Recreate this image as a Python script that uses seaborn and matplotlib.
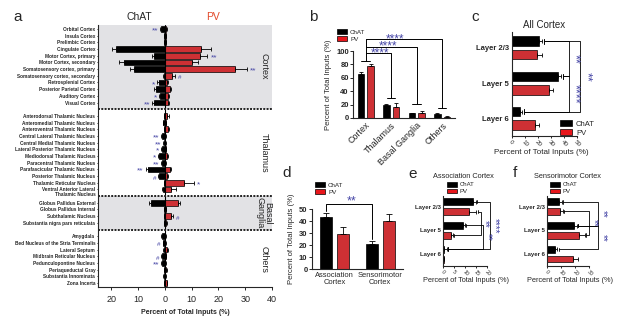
import numpy as np
import pandas as pd
import matplotlib
matplotlib.use("Agg")
import matplotlib.pyplot as plt
from matplotlib.patches import Patch
import seaborn as sns

# ---- data ----
# panel a: inputs per region (percent), ChAT drawn to the left, PV to the right
a_groups = ["Cortex", "Thalamus", "Basal\nGanglia", "Others"]
a_group_sizes = [12, 12, 4, 8]
a_regions = [
    "Orbital Cortex", "Insula Cortex", "Prelimbic Cortex", "Cingulate Cortex",
    "Motor Cortex, primary", "Motor Cortex, secondary", "Somatosensory cortex, primary",
    "Somatosensory cortex, secondary", "Retrosplenial Cortex", "Posterior Parietal Cortex",
    "Auditory Cortex", "Visual Cortex",
    "Anterodorsal Thalamic Nucleus", "Anteromedial Thalamic Nucleus",
    "Anteroventral Thalamic Nucleus", "Central Lateral Thalamic Nucleus",
    "Central Medial Thalamic Nucleus", "Lateral Posterior Thalamic Nucleus",
    "Mediodorsal Thalamic Nucleus", "Paracentral Thalamic Nucleus",
    "Parafascicular Thalamic Nucleus", "Posterior Thalamic Nucleus",
    "Thalamic Reticular Nucleus", "Ventral Anterior Lateral\nThalamic Nucleus",
    "Globus Pallidus External", "Globus Pallidus Internal", "Subthalamic Nucleus",
    "Substantia nigra pars reticulata",
    "Amygdala", "Bed Nucleus of the Stria Terminalis", "Lateral Septum",
    "Midbrain Reticular Nucleus", "Pedunculopontine Nucleus", "Periaqueductal Gray",
    "Substantia Innominata", "Zona Incerta",
]
a_chat = [1.4, 0.3, 0.3, 18.3, 4.1, 15.4, 11.5, 0.5, 2.3, 3.5, 1.9, 4.1,
          0.2, 0.6, 0.2, 1.1, 0.5, 1.2, 2.3, 1.0, 6.3, 2.1, 0.4, 0.9,
          5.1, 0.3, 0.3, 0.3,
          1.1, 0.6, 0.5, 1.1, 1.0, 0.3, 0.5, 0.4]
a_chat_err = [0.3, 0.2, 0.2, 1.5, 0.6, 1.6, 1.5, 0.2, 0.5, 0.4, 0.4, 0.6,
              0.1, 0.2, 0.1, 0.3, 0.2, 0.3, 0.4, 0.3, 0.9, 0.4, 0.1, 0.3,
              0.7, 0.1, 0.1, 0.1,
              0.3, 0.2, 0.2, 0.3, 0.3, 0.1, 0.1, 0.1]
a_pv = [0.5, 0.3, 0.3, 13.5, 13.0, 10.1, 26.2, 2.6, 0.9, 1.9, 1.1, 1.1,
        0.9, 0.3, 1.1, 0.2, 0.2, 0.3, 0.9, 0.2, 1.9, 0.9, 7.3, 2.3,
        4.8, 0.3, 2.3, 0.5,
        0.2, 0.2, 0.7, 0.3, 0.2, 0.5, 0.2, 0.6]
a_pv_err = [0.2, 0.1, 0.1, 3.7, 2.9, 2.1, 4.3, 1.1, 0.3, 0.4, 0.3, 0.3,
            0.6, 0.1, 0.3, 0.1, 0.1, 0.1, 0.3, 0.1, 0.5, 0.3, 3.4, 1.7,
            1.0, 0.1, 0.8, 0.2,
            0.1, 0.1, 0.3, 0.1, 0.1, 0.2, 0.1, 0.3]
a_chat_sig = ["**", "", "", "", "", "", "", "", "*", "", "*", "**",
              "", "", "", "**", "**", "*", "*", "**", "**", "#", "", "",
              "", "", "", "",
              "", "#", "", "#", "**", "", "", ""]
a_pv_sig = ["", "", "", "", "**", "", "**", "#", "", "", "", "",
            "", "", "", "", "", "", "", "", "", "", "*", "",
            "", "", "#", "",
            "", "", "", "", "", "", "", ""]

# panel b
b_regions = ["Cortex", "Thalamus", "Basal Ganglia", "Others"]
b_chat = [66, 19, 7, 6]
b_chat_err = [3, 2, 1, 1]
b_pv = [77, 16, 8, 2]
b_pv_err = [3, 6, 2, 1]

# panel c, e, f: layers
layers = ["Layer 2/3", "Layer 5", "Layer 6"]
c_chat = [21.0, 35.6, 6.2]
c_chat_err = [2.0, 2.6, 1.5]
c_pv = [19.7, 28.8, 17.7]
c_pv_err = [3.8, 3.1, 3.3]

e_chat = [13.3, 8.8, 0.2]
e_chat_err = [1.4, 1.1, 1.3]
e_pv = [11.5, 3.5, 0.1]
e_pv_err = [3.5, 0.8, 0.1]

f_chat = [8.6, 19.0, 5.5]
f_chat_err = [1.6, 2.0, 1.6]
f_pv = [9.0, 22.9, 18.0]
f_pv_err = [2.0, 4.0, 4.0]

# panel d
d_regions = ["Association\nCortex", "Sensorimotor\nCortex"]
d_chat = [43.0, 20.8]
d_chat_err = [3.4, 2.5]
d_pv = [29.2, 40.3]
d_pv_err = [5.5, 5.3]

# ---- style ----
sns.set_theme(style="ticks")
plt.rcParams["font.family"] = ["Liberation Sans", "DejaVu Sans"]
plt.rcParams["axes.linewidth"] = 0.8
plt.rcParams["xtick.major.width"] = 0.7
plt.rcParams["ytick.major.width"] = 0.7
plt.rcParams["xtick.major.size"] = 2
plt.rcParams["ytick.major.size"] = 2

RED = "#e8161b"
STAR = "#4646a6"
GRAY = "#e2e2e5"
pal = {"ChAT": "black", "PV": RED}

W, H = 617, 326
fig = plt.figure(figsize=(W / 100, H / 100), dpi=100)


def box(x0, y0, x1, y1):
    # pixel box -> figure fraction rect
    return [x0 / W, 1 - y1 / H, (x1 - x0) / W, (y1 - y0) / H]


def long_df(cats, chat, pv, cat_name):
    return pd.DataFrame({
        cat_name: list(cats) * 2,
        "cell": ["ChAT"] * len(cats) + ["PV"] * len(cats),
        "value": list(chat) + list(pv),
    })


def legend(ax, x, y, fs):
    handles = [Patch(facecolor="black", edgecolor="black", lw=0.5),
               Patch(facecolor=RED, edgecolor="black", lw=0.5)]
    ax.legend(handles, ["ChAT", "PV"], loc="upper left", bbox_to_anchor=(x / W, 1 - y / H),
              bbox_transform=fig.transFigure, frameon=False, fontsize=fs,
              handlelength=1.6, handleheight=0.8, handletextpad=0.5, labelspacing=0.25,
              borderpad=0, borderaxespad=0)


# ================= panel a =================
ax = fig.add_axes(box(98, 25, 272, 287))
group_id = np.repeat(np.arange(len(a_group_sizes)), a_group_sizes)
pos_a = np.arange(len(a_regions)) + group_id
df_a = pd.DataFrame({
    "pos": np.concatenate([pos_a, pos_a]),
    "value": np.concatenate([-np.array(a_chat), np.array(a_pv)]),
    "cell": ["ChAT"] * len(pos_a) + ["PV"] * len(pos_a),
})
starts = np.cumsum([0] + a_group_sizes[:-1]) + np.arange(len(a_group_sizes))
ends = starts + np.array(a_group_sizes) - 1
ax.axhspan(starts[0] - 0.6, ends[0] + 1, color=GRAY, zorder=0, lw=0)
ax.axhspan(starts[2] - 1, ends[2] + 1, color=GRAY, zorder=0, lw=0)
sns.barplot(data=df_a, x="value", y="pos", hue="cell", orient="y", native_scale=True,
            dodge=False, palette=pal, width=0.85, errorbar=None, edgecolor="black",
            linewidth=0.5, legend=False, ax=ax, zorder=2)
ax.errorbar(-np.array(a_chat), pos_a, xerr=[a_chat_err, np.zeros(len(pos_a))], fmt="none",
            ecolor="black", elinewidth=0.6, capsize=1.2, capthick=0.6, zorder=3)
ax.errorbar(a_pv, pos_a, xerr=[np.zeros(len(pos_a)), a_pv_err], fmt="none",
            ecolor="black", elinewidth=0.6, capsize=1.2, capthick=0.6, zorder=3)
for i, p in enumerate(pos_a):
    if a_chat_sig[i]:
        ax.text(-(a_chat[i] + a_chat_err[i]) - 0.7, p + 0.3, a_chat_sig[i], color=STAR,
                ha="right", va="center", fontsize=6 if "*" in a_chat_sig[i] else 4.5)
    if a_pv_sig[i]:
        ax.text(a_pv[i] + a_pv_err[i] + 1.2, p + 0.3, a_pv_sig[i], color=STAR,
                ha="left", va="center", fontsize=6 if "*" in a_pv_sig[i] else 4.5)
ax.axvline(0, color="black", lw=0.8, zorder=4)
for s in starts[1:]:
    ax.axhline(s - 1, color="#222222", lw=1.4, ls=(0, (1, 0.7)), zorder=4)
for g, s, e in zip(a_groups, starts, ends):
    ax.text(37, (s + e) / 2, g, rotation=270, ha="center", va="center", fontsize=6.5,
            linespacing=0.9)
ax.set_xlim(-25, 40)
ax.set_ylim(pos_a[-1] + 0.6, -0.6)
ax.set_yticks(pos_a)
ylabs = [r.split("\n")[0] for r in a_regions]
ax.set_yticklabels(ylabs, fontsize=3.4, fontweight="bold")
# second line of the two-line label sits just under its row
for i, r in enumerate(a_regions):
    if "\n" in r:
        ax.text(-0.012, pos_a[i] + 0.8, r.split("\n")[1], transform=ax.get_yaxis_transform(),
                ha="right", va="center", fontsize=3.4, fontweight="bold")
ax.tick_params(axis="y", length=1, pad=1)
ax.set_xticks([-20, -10, 0, 10, 20, 30, 40])
ax.set_xticklabels(["20", "10", "0", "10", "20", "30", "40"], fontsize=6.5)
ax.set_xlabel("Percent of Total Inputs (%)", fontsize=5, fontweight="bold", labelpad=4)
ax.set_ylabel("")
sns.despine(ax=ax)
fig.text(18 / W, 1 - 17 / H, "a", fontsize=11, ha="center", va="center")
fig.text(139 / W, 1 - 17 / H, "ChAT", fontsize=7.5, ha="center", va="center")
fig.text(213 / W, 1 - 17 / H, "PV", fontsize=7.5, ha="center", va="center", color="#e2492a")

# ================= panel b =================
ax = fig.add_axes(box(353, 51, 455, 118))
df_b = long_df(b_regions, b_chat, b_pv, "region")
sns.barplot(data=df_b, x="region", y="value", hue="cell", palette=pal, width=0.78, gap=0.35,
            errorbar=None, edgecolor="black", linewidth=0.5, legend=False, ax=ax)
xb = np.arange(len(b_regions))
ax.errorbar(xb - 0.195, b_chat, yerr=[np.zeros(4), b_chat_err], fmt="none", ecolor="black",
            elinewidth=0.6, capsize=1.5, capthick=0.6)
ax.errorbar(xb + 0.195, b_pv, yerr=[np.zeros(4), b_pv_err], fmt="none", ecolor="black",
            elinewidth=0.6, capsize=1.5, capthick=0.6)
b_top = [96.5, 106.5, 117.5]
b_foot = [30, 21, 15.5]
b_star_x = [0.56, 0.88, 1.15]
ax.plot([-0.17, 0.15], [85, 85], color="black", lw=0.7, clip_on=False)
ax.plot([0, 0], [85, b_top[-1]], color="black", lw=0.7, clip_on=False)
for k in range(3):
    t = k + 1
    ax.plot([0, t, t], [b_top[k], b_top[k], b_foot[k]], color="black", lw=0.7, clip_on=False)
    ax.plot([t - 0.17, t + 0.15], [b_foot[k], b_foot[k]], color="black", lw=0.7, clip_on=False)
    ax.text(b_star_x[k], b_top[k] + 0.5, "****", color=STAR, ha="center", va="center",
            fontsize=8.5, clip_on=False)
ax.set_ylim(0, 100)
ax.set_xlim(-0.5, 3.5)
ax.set_yticks(range(0, 101, 20))
ax.tick_params(axis="y", labelsize=5.5, pad=1)
for lab in ax.get_yticklabels():
    lab.set_fontweight("bold")
ax.set_xticks(xb)
ax.set_xticklabels(b_regions, rotation=45, ha="right", rotation_mode="anchor", fontsize=6.5)
ax.tick_params(axis="x", length=0, pad=2)
ax.set_xlabel("")
ax.set_ylabel("Percent of Total Inputs (%)", fontsize=5.5, labelpad=3)
sns.despine(ax=ax)
legend(ax, 337, 29, 4.5)
fig.text(313 / W, 1 - 17 / H, "b", fontsize=11, ha="center", va="center")


# ================= layer panels =================
def layer_panel(rect, chat, chat_err, pv, pv_err, xmax, xticks, off, width, gap, fs_tick,
                fs_y, brackets, star_fs):
    ax = fig.add_axes(rect)
    df = long_df(layers, chat, pv, "layer")
    sns.barplot(data=df, y="layer", x="value", hue="cell", palette=pal, width=width, gap=gap,
                errorbar=None, edgecolor="black", linewidth=0.5, legend=False, ax=ax)
    yl = np.arange(len(layers))
    ax.errorbar(chat, yl - off, xerr=[np.zeros(3), chat_err], fmt="none", ecolor="black",
                elinewidth=0.6, capsize=1.5, capthick=0.6)
    ax.errorbar(pv, yl + off, xerr=[np.zeros(3), pv_err], fmt="none", ecolor="black",
                elinewidth=0.6, capsize=1.5, capthick=0.6)
    ends_c = np.array(chat) + np.array(chat_err)
    ends_p = np.array(pv) + np.array(pv_err)
    for (r1, c1, r2, c2, xl, stars, sx) in brackets:
        y1 = r1 + (off if c1 == "PV" else -off)
        y2 = r2 + (off if c2 == "PV" else -off)
        e1 = (ends_p if c1 == "PV" else ends_c)[r1] + xmax * 0.03
        e2 = (ends_p if c2 == "PV" else ends_c)[r2] + xmax * 0.03
        ax.plot([e1, xl, xl, e2], [y1, y1, y2, y2], color="black", lw=0.6, clip_on=False)
        ax.plot([e1, e1], [y1 - 0.07, y1 + 0.07], color="black", lw=0.6, clip_on=False)
        ax.plot([e2, e2], [y2 - 0.07, y2 + 0.07], color="black", lw=0.6, clip_on=False)
        ax.text(sx, (y1 + y2) / 2, stars, color=STAR, rotation=270, ha="center", va="center",
                fontsize=star_fs, clip_on=False)
    ax.set_xlim(0, xmax)
    ax.set_ylim(2.5, -0.45)
    ax.set_xticks(xticks)
    ax.set_xticklabels([str(t) for t in xticks], rotation=-45, ha="left",
                       rotation_mode="anchor", fontsize=fs_tick)
    ax.tick_params(axis="x", pad=1, length=1.5)
    ax.tick_params(axis="y", length=0, pad=2)
    ax.set_yticks(yl)
    ax.set_yticklabels(layers, fontsize=fs_y, fontweight="bold")
    ax.set_ylabel("")
    ax.set_xlabel("")
    sns.despine(ax=ax)
    return ax


# panel c
ax = layer_panel(box(511.7, 32, 576.7, 136), c_chat, c_chat_err, c_pv, c_pv_err, 50,
                 [0, 10, 20, 30, 40, 50], 0.19, 0.76, 0.3, 4.5, 5.5,
                 [(0, "ChAT", 1, "ChAT", 44.3, "**", 48.0),
                  (1, "ChAT", 2, "ChAT", 44.3, "****", 48.0),
                  (0, "ChAT", 2, "ChAT", 52.5, "**", 57.0)], 9)
ax.set_title("All Cortex", fontsize=7, pad=3)
fig.text(541 / W, 1 - 152 / H, "Percent of Total Inputs (%)", fontsize=5.8, ha="center",
         va="center")
legend(ax, 560, 120, 5.5)
fig.text(475 / W, 1 - 17 / H, "c", fontsize=11, ha="center", va="center")

# panel d
ax = fig.add_axes(box(311.7, 209, 403, 269))
df_d = long_df(d_regions, d_chat, d_pv, "region")
sns.barplot(data=df_d, x="region", y="value", hue="cell", palette=pal, width=0.74, gap=0.3,
            errorbar=None, edgecolor="black", linewidth=0.5, legend=False, ax=ax)
xd = np.arange(2)
ax.errorbar(xd - 0.185, d_chat, yerr=[np.zeros(2), d_chat_err], fmt="none", ecolor="black",
            elinewidth=0.6, capsize=2, capthick=0.6)
ax.errorbar(xd + 0.185, d_pv, yerr=[np.zeros(2), d_pv_err], fmt="none", ecolor="black",
            elinewidth=0.6, capsize=2, capthick=0.6)
ax.plot([-0.185, -0.185, 0.815, 0.815], [48, 54, 54, 24.6], color="black", lw=0.7,
        clip_on=False)
ax.text(0.37, 56, "**", color=STAR, ha="center", va="center", fontsize=9, clip_on=False)
ax.set_ylim(0, 50)
ax.set_xlim(-0.5, 1.5)
ax.set_yticks(range(0, 51, 10))
ax.tick_params(axis="y", labelsize=5.5, pad=1)
for lab in ax.get_yticklabels():
    lab.set_fontweight("bold")
ax.set_xticks(xd)
ax.set_xticklabels(d_regions, fontsize=5.4, linespacing=1.0)
ax.tick_params(axis="x", length=0, pad=2)
ax.set_xlabel("")
ax.set_ylabel("Percent of Total Inputs (%)", fontsize=5.5, labelpad=3)
sns.despine(ax=ax)
legend(ax, 315, 182, 4.5)
fig.text(287 / W, 1 - 173 / H, "d", fontsize=11, ha="center", va="center")

# panel e
ax = layer_panel(box(443.3, 196, 487.3, 266), e_chat, e_chat_err, e_pv, e_pv_err, 20,
                 [0, 5, 10, 15, 20], 0.21, 0.84, 0.3, 3.8, 4.3,
                 [(0, "ChAT", 2, "ChAT", 21.2, "****", 23.2),
                  (0, "PV", 1, "PV", 17.0, "**", 19.0),
                  (1, "ChAT", 2, "ChAT", 18.2, "**", 20.2)], 7)
fig.text(463 / W, 1 - 176 / H, "Association Cortex", fontsize=5.3, ha="center", va="center")
fig.text(466 / W, 1 - 281 / H, "Percent of Total Inputs (%)", fontsize=5.3, ha="center",
         va="center")
legend(ax, 447, 182, 4.3)
fig.text(413 / W, 1 - 174 / H, "e", fontsize=11, ha="center", va="center")

# panel f
ax = layer_panel(box(547.3, 196, 589.3, 266), f_chat, f_chat_err, f_pv, f_pv_err, 30,
                 [0, 10, 20, 30], 0.2, 0.82, 0.3, 3.8, 4.3,
                 [(0, "PV", 1, "PV", 30.0, "**", 33.2),
                  (0, "ChAT", 1, "ChAT", 36.4, "**", 39.4),
                  (1, "ChAT", 2, "ChAT", 36.4, "**", 39.4)], 7)
fig.text(567 / W, 1 - 177 / H, "Sensorimotor Cortex", fontsize=5.3, ha="center", va="center")
fig.text(570 / W, 1 - 281 / H, "Percent of Total Inputs (%)", fontsize=5.3, ha="center",
         va="center")
legend(ax, 550, 182, 4.3)
fig.text(515 / W, 1 - 173 / H, "f", fontsize=11, ha="center", va="center")

fig.savefig("out.png", dpi=100)
